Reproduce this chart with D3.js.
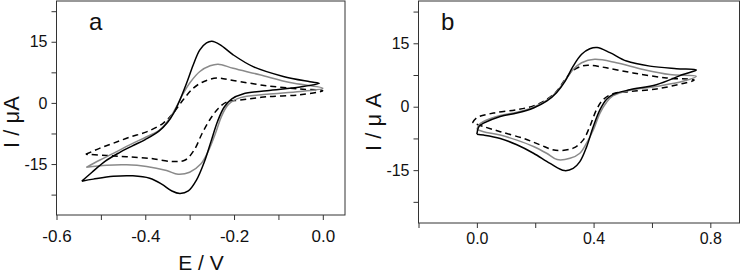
<!DOCTYPE html>
<html>
<head>
<meta charset="utf-8">
<script src="https://cdn.jsdelivr.net/npm/d3@7"></script>
<style>
  body { margin: 0; background: #fff; }
  svg { display: block; font-family: "Liberation Sans", Arial, sans-serif; }
  .frame { fill: none; stroke: #333; stroke-width: 1; }
  .axis line { stroke: #333; }
  .axis text { fill: #111; }
  .cv { fill: none; stroke-width: 1.5; stroke-linejoin: round; }
</style>
</head>
<body>
<svg id="chart" width="742" height="275"></svg>
<script>
// ---- data (E in V, I in uA), each curve = one closed scan ----
var aBlack = [
  [-0.543,-19.2],[-0.520,-17.0],[-0.490,-14.3],[-0.460,-12.3],[-0.430,-10.6],[-0.400,-9.0],
  [-0.370,-7.0],[-0.350,-4.8],[-0.335,-2.3],[-0.322,0.7],[-0.307,4.8],[-0.292,9.3],
  [-0.277,13.0],[-0.262,14.7],[-0.250,15.1],[-0.232,14.3],[-0.202,11.8],[-0.157,8.9],
  [-0.089,6.5],[-0.029,5.2],[-0.008,4.8],
  [-0.051,3.9],[-0.126,3.0],[-0.180,2.2],[-0.205,1.0],[-0.222,-1.0],[-0.237,-4.5],
  [-0.252,-9.5],[-0.267,-14.5],[-0.285,-19.0],[-0.303,-21.6],[-0.322,-22.2],[-0.340,-21.6],
  [-0.362,-20.0],[-0.390,-18.5],[-0.428,-17.9],[-0.472,-18.0],[-0.517,-18.7],[-0.543,-19.2]
];
var aGray = [
  [-0.533,-15.8],[-0.502,-14.0],[-0.472,-12.4],[-0.435,-10.3],[-0.397,-8.3],[-0.367,-6.6],
  [-0.345,-3.8],[-0.330,-1.0],[-0.315,2.2],[-0.299,5.0],[-0.277,7.7],[-0.254,9.1],
  [-0.236,9.5],[-0.202,8.5],[-0.142,6.9],[-0.074,5.0],[0.0,3.6],
  [-0.051,2.8],[-0.126,2.1],[-0.185,1.3],[-0.212,-0.3],[-0.227,-3.0],[-0.242,-7.5],
  [-0.257,-11.6],[-0.275,-15.0],[-0.300,-17.0],[-0.326,-17.5],[-0.352,-16.6],[-0.397,-15.6],
  [-0.442,-15.2],[-0.487,-15.3],[-0.533,-15.8]
];
var aDashed = [
  [-0.534,-12.6],[-0.502,-11.1],[-0.472,-9.9],[-0.435,-8.4],[-0.397,-7.1],[-0.360,-5.0],
  [-0.337,-2.5],[-0.315,0.7],[-0.292,3.6],[-0.269,5.2],[-0.239,6.1],[-0.202,5.5],
  [-0.126,4.2],[-0.051,3.4],[0.0,3.0],
  [-0.051,2.0],[-0.126,1.5],[-0.187,0.7],[-0.217,0.2],[-0.235,-1.3],[-0.255,-4.2],
  [-0.272,-7.5],[-0.290,-11.6],[-0.310,-14.0],[-0.337,-14.4],[-0.390,-13.6],[-0.442,-13.2],
  [-0.487,-12.9],[-0.534,-12.6]
];

var bBlack = [
  [0.0,-6.5],[0.008,-4.6],[0.023,-3.9],[0.080,-2.3],[0.137,-1.5],[0.194,-0.3],[0.239,1.3],
  [0.273,3.3],[0.302,6.0],[0.330,9.6],[0.359,12.4],[0.387,13.7],[0.412,14.0],[0.456,12.8],
  [0.513,10.8],[0.593,9.6],[0.684,9.0],[0.752,8.7],
  [0.706,7.6],[0.615,5.2],[0.524,4.0],[0.467,2.9],[0.444,1.7],[0.422,-0.7],[0.399,-4.7],
  [0.376,-9.5],[0.353,-13.0],[0.330,-14.6],[0.300,-15.1],[0.251,-13.4],[0.194,-11.0],
  [0.137,-9.0],[0.080,-7.5],[0.023,-6.7],[0.0,-6.5]
];
var bGray = [
  [0.0,-5.4],[0.008,-4.2],[0.023,-3.5],[0.080,-2.1],[0.137,-1.3],[0.194,-0.1],[0.239,1.5],
  [0.273,3.5],[0.302,6.2],[0.330,8.8],[0.359,10.4],[0.404,11.2],[0.478,10.4],[0.570,8.8],
  [0.661,7.6],[0.752,7.2],
  [0.706,6.0],[0.615,4.8],[0.524,3.9],[0.467,2.6],[0.444,1.0],[0.422,-1.5],[0.399,-5.5],
  [0.376,-8.6],[0.353,-11.0],[0.319,-12.2],[0.275,-12.5],[0.239,-11.0],[0.194,-9.4],
  [0.137,-7.9],[0.080,-6.7],[0.023,-5.9],[0.0,-5.4]
];
var bDashed = [
  [-0.015,-3.8],[0.0,-2.6],[0.057,-1.5],[0.137,-0.7],[0.194,0.2],[0.239,1.7],[0.273,3.6],
  [0.302,6.4],[0.330,8.6],[0.364,9.7],[0.390,9.8],[0.444,9.2],[0.535,8.0],[0.650,6.8],
  [0.745,6.3],
  [0.706,5.5],[0.615,4.2],[0.524,3.6],[0.467,3.1],[0.433,1.7],[0.410,-0.7],[0.387,-4.7],
  [0.364,-7.9],[0.330,-9.8],[0.270,-10.3],[0.216,-9.0],[0.160,-7.5],[0.080,-5.9],
  [0.023,-4.7],[-0.015,-3.8]
];

// ticks
var yTicks = [-22.5, -15, -7.5, 0, 7.5, 15, 22.5];
var yLabels = [-15, 0, 15];
var aXTicks = [-0.6, -0.5, -0.4, -0.3, -0.2, -0.1, 0];
var aXLabels = [-0.6, -0.4, -0.2, 0];
var bXTicks = [-0.2, 0, 0.2, 0.4, 0.6, 0.8];
var bXLabels = [0, 0.4, 0.8];

var svg = d3.select("#chart");

function drawPanel(p) {
  var x = d3.scaleLinear().domain(p.xDomain).range([p.left, p.right]);
  var y = d3.scaleLinear().domain([-27.5, 25]).range([p.bottom, p.top]);

  // y axis
  var yAxis = d3.axisLeft(y).tickValues(yTicks).tickSize(5).tickPadding(4)
    .tickFormat(function(d){ return yLabels.indexOf(d) >= 0 ? String(d) : ""; });
  svg.append("g").attr("class", "axis")
    .attr("transform", "translate(" + p.left + ",0)")
    .call(yAxis)
    .call(function(g){ g.select(".domain").remove(); })
    .selectAll("text").style("font-size", "16px");

  // x axis
  var xAxis = d3.axisBottom(x).tickValues(p.xTicks).tickSize(5).tickPadding(p.xPad)
    .tickFormat(function(d){
      return p.xLabels.some(function(v){ return Math.abs(v - d) < 1e-9; }) ? d.toFixed(1) : "";
    });
  svg.append("g").attr("class", "axis")
    .attr("transform", "translate(0," + p.bottom + ")")
    .call(xAxis)
    .call(function(g){ g.select(".domain").remove(); })
    .selectAll("text").style("font-size", p.xFont + "px");

  // frame
  svg.append("rect").attr("class", "frame")
    .attr("x", p.left).attr("y", p.top)
    .attr("width", p.right - p.left).attr("height", p.bottom - p.top);

  var line = d3.line()
    .x(function(d){ return x(d[0]); })
    .y(function(d){ return y(d[1]); })
    .curve(d3.curveCatmullRom.alpha(0.5));

  // dashed first, then gray, black on top
  svg.append("path").attr("class", "cv").attr("d", line(p.dashed))
    .attr("stroke", "#000").attr("stroke-dasharray", "6,4");
  svg.append("path").attr("class", "cv").attr("d", line(p.gray))
    .attr("stroke", "#8a8a8a");
  svg.append("path").attr("class", "cv").attr("d", line(p.black))
    .attr("stroke", "#000");

  // panel letter
  svg.append("text").attr("x", p.letterX).attr("y", 30)
    .style("font-size", "24px").attr("fill", "#111").text(p.letter);

  // y title
  svg.append("text")
    .attr("transform", "translate(" + p.yTitleX + ",122) rotate(-90)")
    .attr("text-anchor", "middle")
    .style("font-size", "22px").attr("fill", "#111")
    .text(p.yTitle);
}

drawPanel({
  left: 56.5, right: 345, top: 1, bottom: 215,
  xDomain: [-0.6, 0.05], xTicks: aXTicks, xLabels: aXLabels, xPad: 10, xFont: 17,
  black: aBlack, gray: aGray, dashed: aDashed,
  letter: "a", letterX: 89, yTitle: "I / \u03BCA", yTitleX: 19
});
drawPanel({
  left: 418.5, right: 739.5, top: 1, bottom: 223,
  xDomain: [-0.2, 0.9], xTicks: bXTicks, xLabels: bXLabels, xPad: 5, xFont: 16,
  black: bBlack, gray: bGray, dashed: bDashed,
  letter: "b", letterX: 441, yTitle: "I / \u03BC A", yTitleX: 381
});

// x title (panel a only)
svg.append("text").attr("x", 201).attr("y", 270)
  .attr("text-anchor", "middle").style("font-size", "21px").attr("fill", "#111")
  .text("E / V");
</script>
</body>
</html>
